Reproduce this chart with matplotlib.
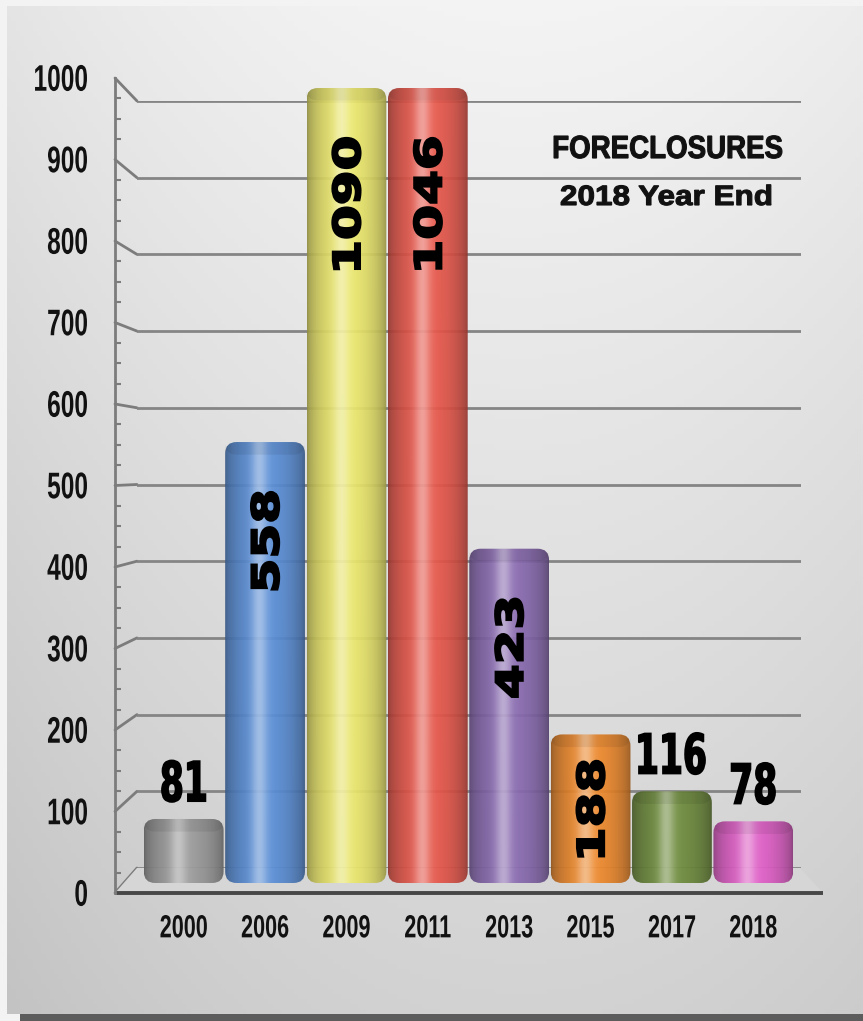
import matplotlib
matplotlib.use("Agg")
import matplotlib.pyplot as plt
import numpy as np
from matplotlib.patches import FancyBboxPatch, ConnectionPatch, Polygon, Rectangle, PathPatch
from matplotlib.textpath import TextPath
from matplotlib.font_manager import FontProperties
from matplotlib.transforms import Affine2D, ScaledTranslation

plt.rcParams["font.family"] = ["DejaVu Sans"]

# ---- data ----
YEARS = ["2000", "2006", "2009", "2011", "2013", "2015", "2017", "2018"]
COUNTS = [81, 558, 1090, 1046, 423, 188, 116, 78]
BASE_COLORS = ["#9c9c9c", "#5a8fd8", "#ece86c", "#e9574b", "#8a6bb2", "#f08a2c", "#6f8d3d", "#e25fc9"]
LABEL_INSIDE = [False, True, True, True, True, True, False, False]
Y_TICKS = list(range(0, 1001, 100))
CAP = 1006   # bars are cut off at the top of the plot

W, H = 863, 1021
fig = plt.figure(figsize=(W / 100, H / 100), dpi=100, facecolor="#f3f3f3")


def box(x0, y0, x1, y1):
    """pixel box (top-left origin) -> figure fraction rect"""
    return [x0 / W, 1 - y1 / H, (x1 - x0) / W, (y1 - y0) / H]


def stext(ax, x, y, s, em_w, em_h, trans=None, ha="center", va="center", rotation=0,
          family="DejaVu Sans", weight="bold", color="black", dx=0, dy=0, lw=0, zorder=6):
    """text drawn as a path so it can be stretched (em sizes in pixels)"""
    tp = TextPath((0, 0), s, size=1, prop=FontProperties(family=family, weight=weight))
    bb = tp.get_extents()
    ax_ = {"left": bb.x0, "center": (bb.x0 + bb.x1) / 2, "right": bb.x1}[ha]
    ay_ = {"bottom": bb.y0, "center": (bb.y0 + bb.y1) / 2, "top": bb.y1}[va]
    tr = (Affine2D().translate(-ax_, -ay_).scale(em_w, em_h).rotate_deg(rotation)
          .translate(dx, dy) + ScaledTranslation(x, y, trans if trans is not None else ax.transData))
    ax.add_patch(PathPatch(tp, transform=tr, facecolor=color,
                           edgecolor=color if lw else "none", linewidth=lw,
                           zorder=zorder, clip_on=False))


# ===== background gradient =====
ax_bg = fig.add_axes(box(7, 6, 863, 1014), zorder=0)
yy, xx = np.mgrid[0:1:200j, 0:1:200j]
shade = 0.955 - 0.13 * yy - 0.06 * ((xx - 0.6) / 0.6) ** 2
ax_bg.imshow(np.dstack([shade] * 3), extent=[0, 1, 0, 1], aspect="auto", origin="upper")
ax_bg.axis("off")
ax_strip = fig.add_axes(box(20, 1014, 863, 1021), zorder=0)
ax_strip.add_patch(Rectangle((0, 0), 1, 1, color="#5c5c5c"))
ax_strip.axis("off")

# ===== overlay in pixels for the floor + title =====
ax_px = fig.add_axes([0, 0, 1, 1], zorder=1)
ax_px.set_xlim(0, W)
ax_px.set_ylim(H, 0)
ax_px.axis("off")
ax_px.add_patch(Polygon([(115, 893), (137, 868), (800, 868), (823, 893)],
                        closed=True, facecolor="#d6d6d6", edgecolor="none"))
ax_px.plot([115, 823], [893, 893], color="#474747", lw=2.8, solid_capstyle="butt")

# ===== back wall with gridlines =====
ax_wall = fig.add_axes(box(137, 101, 801, 868), zorder=2)
ax_wall.set_xlim(0, 1)
ax_wall.set_ylim(0, 1000)
ax_wall.set_yticks(Y_TICKS)
ax_wall.tick_params(left=False, bottom=False, labelleft=False, labelbottom=False)
ax_wall.grid(True, axis="y", color="#858585", lw=2)
ax_wall.set_facecolor("none")
for s in ax_wall.spines.values():
    s.set_visible(False)

# ===== front value axis =====
ax_front = fig.add_axes(box(115, 78, 135, 893), zorder=3)
ax_front.set_xlim(0, 1)
ax_front.set_ylim(0, 1000)
ax_front.set_facecolor("none")
for k in ["top", "right", "bottom"]:
    ax_front.spines[k].set_visible(False)
ax_front.spines["left"].set_color("#7c7c7c")
ax_front.spines["left"].set_linewidth(2)
ax_front.set_yticks(Y_TICKS)
ax_front.set_yticks(np.arange(0, 1001, 25), minor=True)
ax_front.tick_params(axis="y", which="major", length=0, labelleft=False)
ax_front.tick_params(axis="y", which="minor", direction="in", length=4, width=1.5, color="#7c7c7c")
ax_front.tick_params(axis="x", bottom=False, labelbottom=False)

for v in Y_TICKS:
    con = ConnectionPatch(xyA=(0, v), coordsA=ax_front.transData,
                          xyB=(0, v), coordsB=ax_wall.transData,
                          color="#7c7c7c", lw=2)
    fig.add_artist(con)
    stext(ax_front, 0, v, str(v), 24.5, 37, ha="right", va="center", dx=-28,
          family="Liberation Sans", weight="bold", color="#111111")

# ===== cylinder bars =====
ax_bar = fig.add_axes(box(143, 88, 794, 883), zorder=4)
ax_bar.set_facecolor("none")
for s in ax_bar.spines.values():
    s.set_visible(False)

px_x = 651 / len(YEARS)
px_y = 795 / CAP
aspect = px_x / px_y

t = np.linspace(0, 1, 120)
body = 0.60 + 0.40 * np.sin(np.pi * t) ** 0.6
spec = 0.40 * np.exp(-((t - 0.43) / 0.10) ** 2)

for i, (v, col) in enumerate(zip(COUNTS, BASE_COLORS)):
    h = min(v, CAP)
    rgb = np.array(matplotlib.colors.to_rgb(col))
    grad = rgb[None, :] * body[:, None]
    grad = grad + (1 - grad) * spec[:, None]
    grad = np.clip(grad, 0, 1)[None, :, :]
    patch = FancyBboxPatch((i - 0.49, 0), 0.98, h,
                           boxstyle="round,pad=0,rounding_size=0.14",
                           mutation_aspect=aspect, facecolor="none", edgecolor="none")
    ax_bar.add_patch(patch)
    im = ax_bar.imshow(grad, extent=[i - 0.49, i + 0.49, 0, h], aspect="auto",
                       interpolation="bilinear", alpha=0.93, zorder=2)
    im.set_clip_path(patch)
    # darker rim at the top
    rim = FancyBboxPatch((i - 0.49, h - 16), 0.98, 16,
                         boxstyle="round,pad=0,rounding_size=0.14",
                         mutation_aspect=aspect, facecolor="black", alpha=0.07,
                         edgecolor="none", zorder=3)
    ax_bar.add_patch(rim)

    if LABEL_INSIDE[i]:
        if h > 300:
            stext(ax_bar, i, h, str(v), 50, 37, ha="right", va="center", rotation=90,
                  dy=-50, lw=1.6)
        else:
            stext(ax_bar, i, h / 2, str(v), 50, 37, ha="center", va="center",
                  rotation=90, lw=1.6)
    else:
        stext(ax_bar, i, h, str(v), 34.5, 55, ha="center", va="bottom", dy=17, lw=1.2)

    stext(ax_bar, i, 0, YEARS[i], 21.6, 32, ha="center", va="top", dy=-32,
          family="Liberation Sans", weight="bold", color="#111111")

ax_bar.set_xlim(-0.5, len(YEARS) - 0.5)
ax_bar.set_ylim(0, CAP)
ax_bar.set_xticks([])
ax_bar.set_yticks([])

# ===== title text =====
stext(ax_px, 668, 147, "FORECLOSURES", 27.7, 32, trans=ax_px.transData,
      family="Liberation Sans", weight="bold", color="#111111", lw=0.8)
stext(ax_px, 666, 195, "2018 Year End", 31.5, 28, trans=ax_px.transData,
      family="Liberation Sans", weight="bold", color="#111111", lw=0.8)

plt.savefig("out.png", dpi=100, facecolor=fig.get_facecolor())
plt.close()
